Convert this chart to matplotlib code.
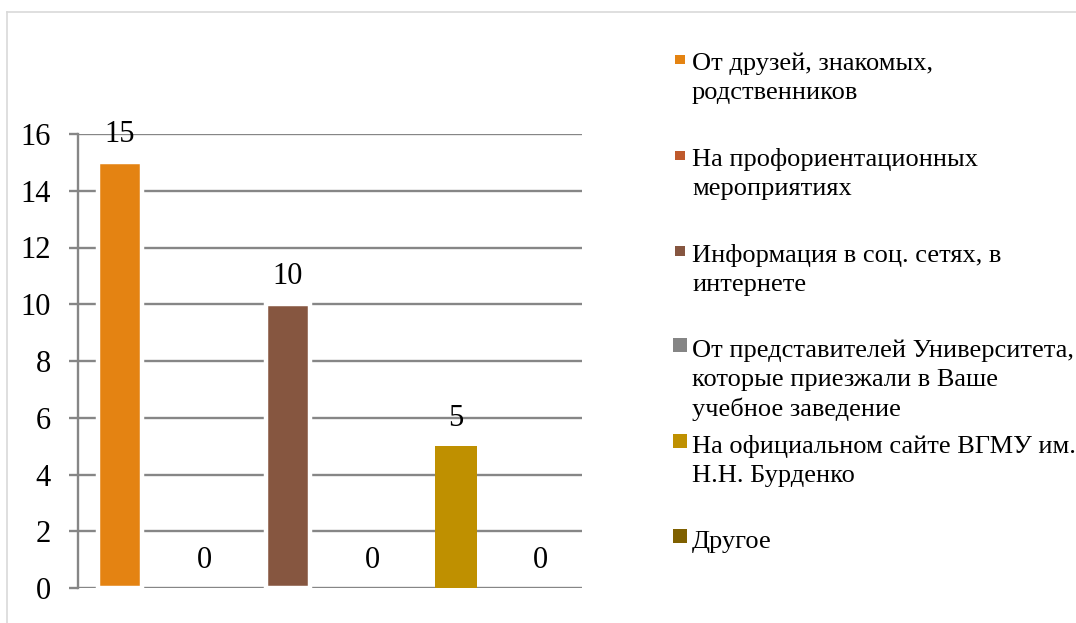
import matplotlib
matplotlib.use("Agg")
import matplotlib.pyplot as plt
from matplotlib.patches import Rectangle
from matplotlib.lines import Line2D

categories = ["От друзей, знакомых,\nродственников",
              "На профориентационных\nмероприятиях",
              "Информация в соц. сетях, в\nинтернете",
              "От представителей Университета,\nкоторые приезжали в Ваше\nучебное заведение",
              "На официальном сайте ВГМУ им.\nН.Н. Бурденко",
              "Другое"]
values = [15, 0, 10, 0, 5, 0]
colors = ["#E48312", "#BF5A2C", "#865640", "#858585", "#BF9000", "#7F6000"]
yticks = [0, 2, 4, 6, 8, 10, 12, 14, 16]

plt.rcParams['font.family'] = ['Liberation Serif', 'DejaVu Serif']

W, H = 1076, 623
fig = plt.figure(figsize=(W / 100, H / 100), dpi=100)
ax = fig.add_axes([78 / W, 1 - 588 / H, (582 - 78) / W, (588 - 134) / H])

grid_c = "#868686"
for i, (v, c) in enumerate(zip(values, colors)):
    if i < 3 and v > 0:
        ax.bar(i, v, width=0.52, color=c, edgecolor="white", linewidth=3.2, zorder=3)
    else:
        ax.bar(i, v, width=0.5, color=c, linewidth=0, zorder=3)
    ax.annotate(str(v), (i, v), xytext=(0, 20), textcoords="offset points",
                ha="center", va="center", fontsize=22, color="black", zorder=4)

ax.set_xlim(-0.5, len(values) - 0.5)
ax.set_ylim(0, 16)
ax.set_yticks(yticks)
ax.set_yticklabels([str(t) for t in yticks], fontsize=22)
ax.set_xticks([])
ax.yaxis.grid(True, color=grid_c, linewidth=1.7)
ax.set_axisbelow(True)
for s in ["top", "right", "bottom"]:
    ax.spines[s].set_visible(False)
ax.spines["left"].set_color(grid_c)
ax.spines["left"].set_linewidth(1.7)
ax.tick_params(axis="y", length=6.5, width=1.7, color=grid_c, pad=13)
ax.patch.set_alpha(0)

# outer chart frame
fig.add_artist(Line2D([7 / W, 7 / W], [0, 1 - 12 / H], color="#D9D9D9", linewidth=1.2))
fig.add_artist(Line2D([7 / W, 1.0], [1 - 12 / H, 1 - 12 / H], color="#D9D9D9", linewidth=1.2))

# legend
for i, (lab, c) in enumerate(zip(categories, colors)):
    baseline = 67.7 + 95.7 * i
    top = baseline - 15
    fig.text(692 / W, 1 - top / H, lab, fontsize=19, va="top", ha="left",
             linespacing=1.38, color="black")
    sz = 9.5 if i < 3 else 14
    cx = 680 if i < 3 else 679.5
    cy = baseline - (8 if i < 3 else 10)
    fig.add_artist(Rectangle(((cx - sz / 2) / W, 1 - (cy + sz / 2) / H), sz / W, sz / H,
                             facecolor=c, edgecolor="none", transform=fig.transFigure))

fig.savefig("out.png", dpi=100)
